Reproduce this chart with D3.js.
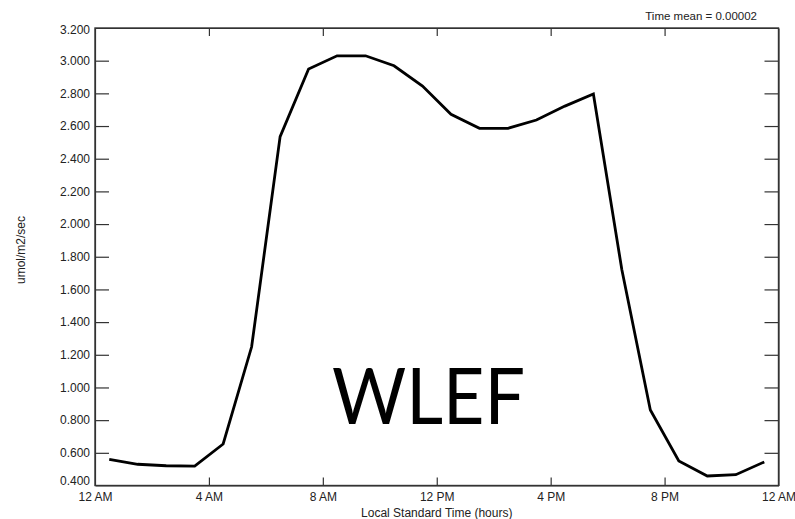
<!DOCTYPE html>
<html>
<head>
<meta charset="utf-8">
<script src="https://cdn.jsdelivr.net/npm/d3@7"></script>
<style>
  body { margin: 0; background: #fff; }
  text { font-family: "Liberation Sans", Arial, sans-serif; }
</style>
</head>
<body>
<div id="chart"></div>
<script>
// hours of day (half-hour midpoints) and flux values
const hours = [0.5, 1.5, 2.5, 3.5, 4.5, 5.5, 6.5, 7.5, 8.5, 9.5, 10.5, 11.5,
               12.5, 13.5, 14.5, 15.5, 16.5, 17.5, 18.5, 19.5, 20.5, 21.5, 22.5, 23.5]
const flux = [0.560, 0.530, 0.521, 0.519, 0.654, 1.249, 2.535, 2.949, 3.030, 3.030, 2.969, 2.845,
              2.672, 2.586, 2.586, 2.637, 2.722, 2.796, 1.720, 0.862, 0.550, 0.458, 0.466, 0.544]

const xTicks = [0, 4, 8, 12, 16, 20, 24]
const xTickLabels = ["12 AM", "4 AM", "8 AM", "12 PM", "4 PM", "8 PM", "12 AM"]
const yTicks = [0.4, 0.6, 0.8, 1.0, 1.2, 1.4, 1.6, 1.8, 2.0, 2.2, 2.4, 2.6, 2.8, 3.0, 3.2]

const data = hours.map((h, i) => ({hour: h, value: flux[i]}))

const W = 795, H = 519
const margin = {top: 28, right: 16.5, bottom: 33.5, left: 95}

const svg = d3.select("#chart").append("svg")
    .attr("width", W)
    .attr("height", H)

const x = d3.scaleLinear()
    .domain([0, 24])
    .range([margin.left, W - margin.right])

const y = d3.scaleLinear()
    .domain([0.4, 3.2])
    .range([H - margin.bottom, margin.top])

const axisColor = "#333"

// left axis, ticks pointing inward
svg.append("g")
    .attr("transform", `translate(${margin.left},0)`)
    .call(d3.axisLeft(y).tickValues(yTicks).tickFormat(d3.format(".3f"))
        .tickSizeInner(-14).tickSizeOuter(0).tickPadding(5))
    .call(g => g.selectAll(".tick line").filter(d => d === 0.4 || d === 3.2).remove())
    .call(g => g.selectAll("text").attr("font-size", 12).attr("fill", "#222").attr("font-family", null))
    // end labels sit slightly inside the frame
    .call(g => g.selectAll(".tick text").filter(d => d === 0.4).attr("y", -5))
    .call(g => g.selectAll(".tick text").filter(d => d === 3.2).attr("y", 2))

// right axis
svg.append("g")
    .attr("transform", `translate(${W - margin.right},0)`)
    .call(d3.axisRight(y).tickValues(yTicks).tickFormat("")
        .tickSizeInner(-14).tickSizeOuter(0))
    .call(g => g.selectAll(".tick line").filter(d => d === 0.4 || d === 3.2).remove())

// bottom axis
svg.append("g")
    .attr("transform", `translate(0,${H - margin.bottom})`)
    .call(d3.axisBottom(x).tickValues(xTicks).tickFormat((d, i) => xTickLabels[i])
        .tickSizeInner(-8).tickSizeOuter(0).tickPadding(7))
    .call(g => g.selectAll(".tick line").filter(d => d === 0 || d === 24).remove())
    .call(g => g.selectAll("text").attr("font-size", 12).attr("fill", "#222").attr("font-family", null))

// top axis
svg.append("g")
    .attr("transform", `translate(0,${margin.top})`)
    .call(d3.axisTop(x).tickValues(xTicks).tickFormat("")
        .tickSizeInner(-8).tickSizeOuter(0))
    .call(g => g.selectAll(".tick line").filter(d => d === 0 || d === 24).remove())

svg.selectAll(".domain, .tick line").attr("stroke", axisColor).attr("stroke-width", 1.2)

// frame
svg.append("rect")
    .attr("x", margin.left)
    .attr("y", margin.top)
    .attr("width", W - margin.right - margin.left)
    .attr("height", H - margin.bottom - margin.top)
    .attr("fill", "none")
    .attr("stroke", axisColor)
    .attr("stroke-width", 1.4)

// the line
const line = d3.line()
    .x(d => x(d.hour))
    .y(d => y(d.value))

svg.append("path")
    .datum(data)
    .attr("fill", "none")
    .attr("stroke", "#000")
    .attr("stroke-width", 2.8)
    .attr("stroke-linejoin", "miter")
    .attr("d", line)

// axis titles
svg.append("text")
    .attr("x", (margin.left + W - margin.right) / 2)
    .attr("y", 517)
    .attr("text-anchor", "middle")
    .attr("font-size", 12)
    .attr("fill", "#222")
    .text("Local Standard Time (hours)")

svg.append("text")
    .attr("transform", "translate(25,250) rotate(-90)")
    .attr("text-anchor", "middle")
    .attr("font-size", 12)
    .attr("fill", "#222")
    .text("umol/m2/sec")

svg.append("text")
    .attr("x", 757)
    .attr("y", 20)
    .attr("text-anchor", "end")
    .attr("font-size", 11.5)
    .attr("fill", "#222")
    .text("Time mean = 0.00002")

// site label
svg.append("text")
    .attr("x", 332)
    .attr("y", 424)
    .attr("font-size", 78)
    .style("font-family", "Lato, sans-serif")
    .attr("textLength", 193)
    .attr("lengthAdjust", "spacingAndGlyphs")
    .attr("fill", "#000")
    .text("WLEF")
</script>
</body>
</html>
